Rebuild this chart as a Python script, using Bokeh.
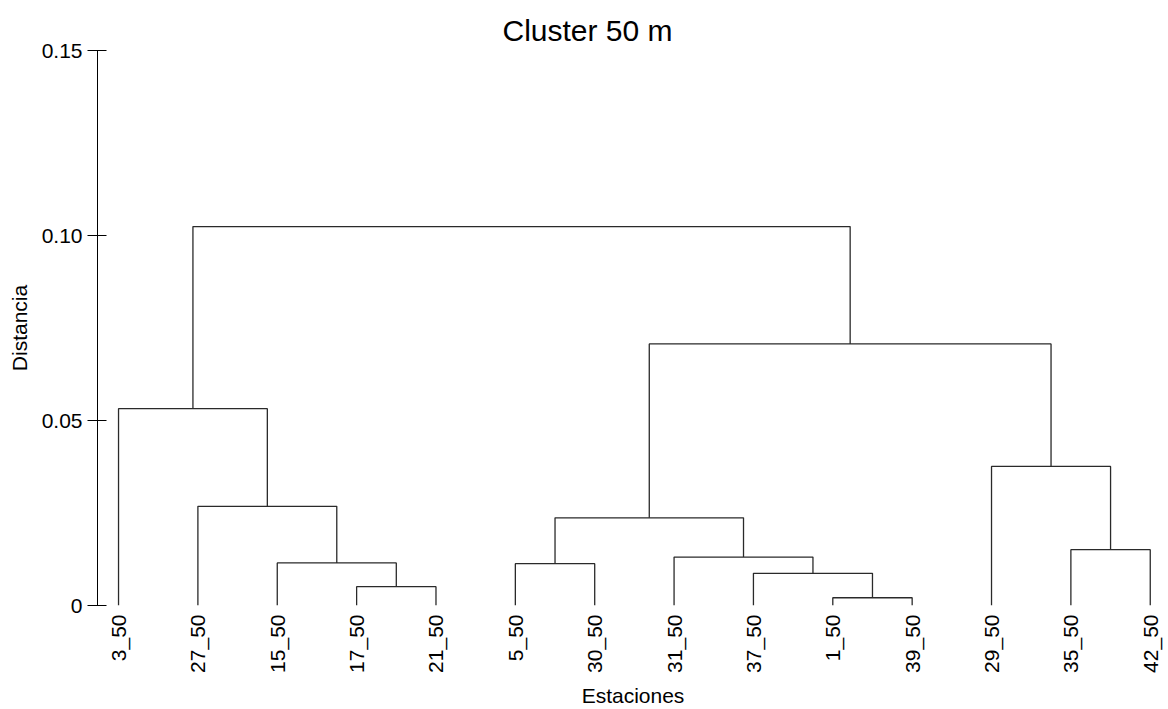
import math
from bokeh.plotting import figure
from bokeh.models import Range1d, FixedTicker, LinearAxis, Title
from bokeh.embed import file_html
from bokeh.resources import INLINE

# Stations in dendrogram leaf order
estaciones = ["3_50", "27_50", "15_50", "17_50", "21_50", "5_50", "30_50",
              "31_50", "37_50", "1_50", "39_50", "29_50", "35_50", "42_50"]

# Agglomeration steps: (left child, right child, distance)
# a child is either a station name or the index of an earlier step
fusion_a = ["17_50", "15_50", "27_50", "3_50", "1_50", "37_50", "31_50",
            "5_50", 7, "35_50", "29_50", 8, 3]
fusion_b = ["21_50", 0, 1, 2, "39_50", 4, 5, "30_50", 6, "42_50", 9, 10, 11]
distancias = [0.0051, 0.0115, 0.0268, 0.0532, 0.0021, 0.0087, 0.0131,
              0.0113, 0.0237, 0.0151, 0.0376, 0.0707, 0.1024]

y_ticks = [0, 0.05, 0.10, 0.15]
y_tick_labels = ["0", "0.05", "0.10", "0.15"]

FONT = "Liberation Sans"
LINE = "#2a2a2a"

# node positions: leaves sit at their order index and height 0
pos = {name: (float(i), 0.0) for i, name in enumerate(estaciones)}
xs, ys = [], []
for k, (a, b, h) in enumerate(zip(fusion_a, fusion_b, distancias)):
    xa, ha = pos[a]
    xb, hb = pos[b]
    xs.append([xa, xa, xb, xb])
    ys.append([ha, h, h, hb])
    pos[k] = ((xa + xb) / 2.0, h)

p = figure(width=1168, height=709, output_backend="svg", toolbar_location=None,
           x_range=Range1d(-0.265, 13.23), y_range=Range1d(0, 0.15),
           x_axis_location=None, y_axis_location=None,
           min_border_left=97, min_border_right=0, min_border_top=50,
           min_border_bottom=0)
p.outline_line_color = None
p.xgrid.grid_line_color = None
p.ygrid.grid_line_color = None
p.background_fill_color = "white"
p.border_fill_color = "white"

p.multi_line(xs, ys, line_color=LINE, line_width=1.3)

# vertical distance axis
yax = LinearAxis(ticker=FixedTicker(ticks=y_ticks),
                 major_label_overrides={t: l for t, l in zip(y_ticks, y_tick_labels)},
                 axis_label="Distancia")
yax.major_tick_out = 10
yax.major_tick_in = 9
yax.minor_tick_line_color = None
yax.axis_line_color = "black"
yax.major_tick_line_color = "black"
yax.major_label_standoff = 5
yax.major_label_text_font = FONT
yax.major_label_text_font_size = "21px"
yax.major_label_text_color = "black"
yax.axis_label_text_font = FONT
yax.axis_label_text_font_size = "21px"
yax.axis_label_text_font_style = "normal"
yax.axis_label_text_color = "black"
yax.axis_label_standoff = 8
p.add_layout(yax, "left")

# station labels under each leaf, reading upwards
xax = LinearAxis(ticker=FixedTicker(ticks=list(range(len(estaciones)))),
                 major_label_overrides={i: n for i, n in enumerate(estaciones)},
                 axis_label="Estaciones")
xax.axis_line_color = None
xax.major_tick_line_color = None
xax.minor_tick_line_color = None
xax.major_tick_out = 0
xax.major_tick_in = 0
xax.major_label_orientation = math.pi / 2
xax.major_label_standoff = 9
xax.major_label_text_font = FONT
xax.major_label_text_font_size = "21px"
xax.major_label_text_color = "black"
xax.axis_label_text_font = FONT
xax.axis_label_text_font_size = "21px"
xax.axis_label_text_font_style = "normal"
xax.axis_label_text_color = "black"
xax.axis_label_standoff = 8
p.add_layout(xax, "below")

p.add_layout(Title(text="Cluster 50 m", align="left", offset=405,
                   text_font=FONT, text_font_size="30px",
                   text_font_style="normal", text_color="black",
                   standoff=8), "above")

open("out.html", "w").write(file_html(p, INLINE))
